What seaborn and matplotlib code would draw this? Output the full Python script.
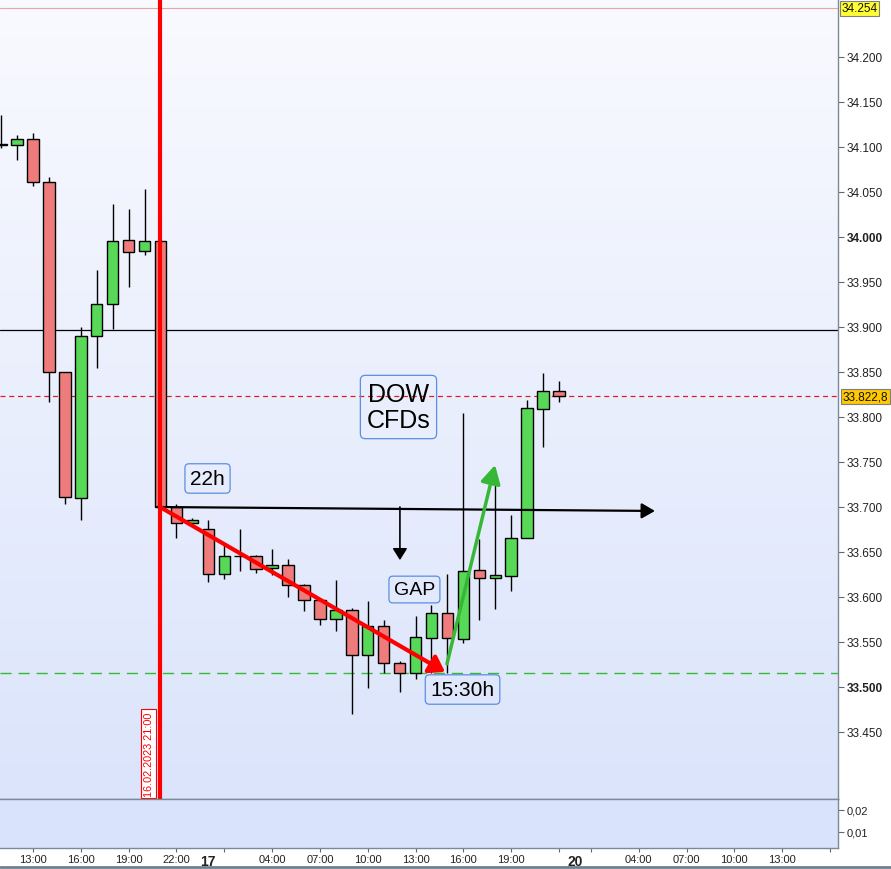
import numpy as np
import pandas as pd
import matplotlib
matplotlib.use("Agg")
import matplotlib.pyplot as plt
import seaborn as sns
from matplotlib.colors import LinearSegmentedColormap
from matplotlib.lines import Line2D

# hourly DOW CFD candles, 16.02.2023 11:00 .. 17.02.2023 22:00 (one slot per hour)
opens = [34103, 34102, 34109, 34061, 33850, 33710, 33890, 33926, 33997, 33984,
         33996, 33700, 33682, 33675, 33625, 33646, 33645, 33632, 33636, 33613,
         33597, 33576, 33586, 33536, 33568, 33527, 33516, 33554, 33582, 33553,
         33630, 33621, 33623, 33665, 33809, 33829]
highs = [34136, 34113, 34116, 34067, 33850, 33900, 33963, 34037, 34031, 34053,
         33997, 33703, 33688, 33685, 33658, 33676, 33647, 33653, 33642, 33614,
         33598, 33619, 33588, 33595, 33574, 33529, 33579, 33591, 33626, 33804,
         33664, 33731, 33691, 33819, 33849, 33840]
lows = [34099, 34085, 34057, 33817, 33703, 33686, 33854, 33898, 33944, 33980,
        33699, 33666, 33680, 33617, 33620, 33629, 33627, 33624, 33600, 33584,
        33569, 33562, 33470, 33499, 33516, 33494, 33509, 33516, 33516, 33549,
        33574, 33587, 33607, 33665, 33767, 33817]
closes = [34102, 34109, 34061, 33850, 33711, 33890, 33925, 33996, 33983, 33996,
          33700, 33682, 33685, 33626, 33646, 33645, 33631, 33636, 33613, 33597,
          33576, 33586, 33536, 33568, 33527, 33516, 33556, 33582, 33554, 33629,
          33621, 33624, 33665, 33810, 33829, 33823]

# time axis (hour slots, weekend compressed)
xtick_marks = [2, 5, 8, 11, 14, 17, 20, 23, 26, 29, 32, 35, 37, 40, 43, 46, 49, 52]
xtick_pos = [2, 5, 8, 11, 13, 17, 20, 23, 26, 29, 32, 36, 40, 43, 46, 49]
xtick_labels = ["13:00", "16:00", "19:00", "22:00", "17", "04:00", "07:00", "10:00",
                "13:00", "16:00", "19:00", "20", "04:00", "07:00", "10:00", "13:00"]

price_ticks = [33450, 33500, 33550, 33600, 33650, 33700, 33750, 33800,
               33850, 33900, 33950, 34000, 34050, 34100, 34150, 34200]
bold_ticks = [33500, 34000]
sub_ticks = [0.01, 0.02]
sub_labels = ["0,01", "0,02"]

last_price = 33822.8
session_high = 34254
level_line = 33897
support_line = 33515.6

df = pd.DataFrame({"open": opens, "high": highs, "low": lows, "close": closes})
df["slot"] = np.arange(len(df))
df["up"] = df["close"] >= df["open"]
df["bottom"] = df[["open", "close"]].min(axis=1)
df["body"] = (df["close"] - df["open"]).abs().clip(lower=0.6)

sns.set_theme(style="white")
plt.rcParams["font.family"] = ["Liberation Sans", "DejaVu Sans"]
plt.rcParams["text.color"] = "black"

fig = plt.figure(figsize=(8.91, 8.70), dpi=100)
W, H = 891, 870
ax = fig.add_axes([0, 1 - 800 / H, 838 / W, 800 / H])
ax2 = fig.add_axes([0, 1 - 849.3 / H, 838 / W, 49.3 / H])

xlim = (-1.1 / 15.94, (838 - 1.1) / 15.94)
ylim = (34200 - 742 / 0.9, 34200 + 58 / 0.9)

# gradient background
grad = np.linspace(0, 1, 256).reshape(-1, 1)
cmap = LinearSegmentedColormap.from_list("bg", ["#dbe4fb", "#f9faff"])
ax.imshow(grad, extent=[xlim[0], xlim[1], ylim[0], ylim[1]], origin="lower",
          aspect="auto", cmap=cmap, zorder=0)
ax2.set_facecolor("#d9e3fc")

# reference lines
ax.axhline(session_high, color="#eda3a3", lw=0.8, zorder=1)
ax.axhline(level_line, color="black", lw=0.9, zorder=1)
ax.axhline(last_price, color="#e02020", lw=0.9, ls=(0, (4, 3)), zorder=1)
ax.axhline(support_line, color="#33bb33", lw=1.0, ls=(0, (8, 5)), zorder=1)

# candles
ax.vlines(df["slot"], df["low"], df["high"], color="black", lw=1, zorder=2)
colors = np.where(df["up"], "#57d957", "#ee7c7c")
ax.bar(df["slot"], df["body"], bottom=df["bottom"], width=0.72, color=colors,
       edgecolor="black", linewidth=1, zorder=3)

# vertical marker at 16.02.2023 21:00
ax.axvline(9.97, color="#ff0000", lw=3, zorder=6)
ax.text(9.25, 0.004, "16.02.2023 21:00", transform=ax.get_xaxis_transform(),
        rotation=90, ha="center", va="bottom", fontsize=7.8, color="#ff0000",
        bbox=dict(boxstyle="square,pad=0.2", fc="white", ec="#ff0000", lw=0.8),
        zorder=7)

# arrows
ax.annotate("", xy=(41.02, 33695.6), xytext=(9.78, 33700),
            arrowprops=dict(arrowstyle="-|>,head_length=0.4,head_width=0.23",
                            color="black", lw=1.6, mutation_scale=20,
                            shrinkA=0, shrinkB=0), zorder=5)
ax.annotate("", xy=(25.02, 33641), xytext=(25.02, 33700),
            arrowprops=dict(arrowstyle="-|>,head_length=0.35,head_width=0.22",
                            color="black", lw=1.2, mutation_scale=20,
                            shrinkA=0, shrinkB=0), zorder=5)
ax.annotate("", xy=(27.85, 33516.7), xytext=(9.97, 33700),
            arrowprops=dict(arrowstyle="-|>,head_length=0.45,head_width=0.3",
                            color="#ff0000", lw=3, mutation_scale=20,
                            shrinkA=0, shrinkB=0), zorder=6)
ax.annotate("", xy=(30.99, 33746.7), xytext=(27.97, 33525.6),
            arrowprops=dict(arrowstyle="-|>,head_length=0.55,head_width=0.3",
                            color="#36b836", lw=2.5, mutation_scale=20,
                            shrinkA=0, shrinkB=0), zorder=6)

# text boxes
box = dict(boxstyle="round,pad=0.25,rounding_size=0.2", fc="none", ec="#5a8ee3", lw=0.9)
ax.text(12.95, 33731.7, "22h", fontsize=15, color="black", ha="center", va="center",
        bbox=box, zorder=8)
ax.text(24.93, 33811.1, "DOW\nCFDs", fontsize=18, color="black", ha="center",
        va="center", linespacing=1.15, bbox=box, zorder=8)
ax.text(25.93, 33608.3, "GAP", fontsize=14, color="black", ha="center", va="center",
        bbox=box, zorder=8)
ax.text(28.95, 33497.2, "15:30h", fontsize=15, color="black", ha="center", va="center",
        bbox=box, zorder=8)

# main axis formatting
ax.set_xlim(xlim)
ax.set_ylim(ylim)
ax.set_xticks([])
ax.yaxis.tick_right()
ax.set_yticks(price_ticks)
ax.set_yticklabels([f"{v / 1000:.3f}" for v in price_ticks])
for lab, v in zip(ax.get_yticklabels(), price_ticks):
    if v in bold_ticks:
        lab.set_fontweight("bold")
        lab.set_fontsize(9.5)
ax.tick_params(axis="y", right=True, length=4, width=0.8, color="#606870",
               labelsize=8.5, labelcolor="#222222", pad=2)
for s in ["left", "top"]:
    ax.spines[s].set_visible(False)
for s in ["right", "bottom"]:
    ax.spines[s].set_color("#7a8a98")
    ax.spines[s].set_linewidth(1)

# price tags on the scale
ax.text(1.004, session_high, "34.254", transform=ax.get_yaxis_transform(),
        ha="left", va="center", fontsize=8.5, color="#111111", clip_on=False,
        bbox=dict(boxstyle="square,pad=0.15", fc="#ffff33", ec="#7f7f7f", lw=0.8))
ax.text(1.006, last_price, "33.822,8", transform=ax.get_yaxis_transform(),
        ha="left", va="center", fontsize=8.5, color="#111111", clip_on=False,
        bbox=dict(boxstyle="square,pad=0.15", fc="#ffc800", ec="#7f7f7f", lw=0.8))

# lower panel + time axis
ax2.set_xlim(xlim)
ax2.set_ylim(0.00245, 0.02486)
ax2.yaxis.tick_right()
ax2.set_yticks(sub_ticks)
ax2.set_yticklabels(sub_labels)
ax2.tick_params(axis="y", right=True, length=4, width=0.8, color="#606870",
                labelsize=8, labelcolor="#222222", pad=2)
ax2.xaxis.remove_overlapping_locs = False
ax2.set_xticks(xtick_marks)
ax2.set_xticklabels([""] * len(xtick_marks))
ax2.set_xticks(xtick_pos, minor=True)
ax2.set_xticklabels(xtick_labels, minor=True)
ax2.tick_params(axis="x", which="major", bottom=True, length=3, width=0.8, color="#606870")
ax2.tick_params(axis="x", which="minor", bottom=True, length=0, labelsize=8,
                labelcolor="#222222", pad=4)
for lab in ax2.get_xticklabels(minor=True):
    if lab.get_text() in ("17", "20"):
        lab.set_fontweight("bold")
        lab.set_fontsize(10)
ax2.spines["left"].set_visible(False)
for s in ["right", "bottom", "top"]:
    ax2.spines[s].set_color("#7a8a98")
    ax2.spines[s].set_linewidth(1)

fig.add_artist(Line2D([0, 1], [0.002, 0.002], transform=fig.transFigure,
                      color="#6f808e", lw=2))

fig.savefig("out.png", dpi=100)
